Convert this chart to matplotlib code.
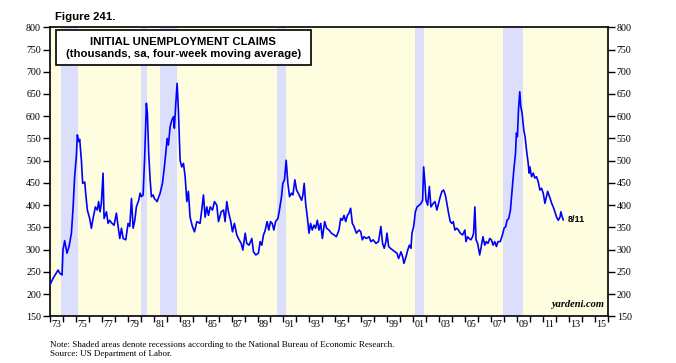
import matplotlib
matplotlib.use("Agg")
import matplotlib.pyplot as plt
from matplotlib.patches import Rectangle
from matplotlib.ticker import FixedLocator, NullFormatter

# ---- data (decimal year, thousands) ----
dates = [
    1973.05, 1973.23, 1973.62, 1973.75, 1973.93, 1974.00, 1974.13, 1974.31, 1974.47, 1974.65,
    1974.77, 1974.90, 1975.03, 1975.11, 1975.21, 1975.29, 1975.42, 1975.52, 1975.68, 1975.75,
    1975.88, 1976.06, 1976.19, 1976.34, 1976.50, 1976.65, 1976.75, 1976.86, 1976.96, 1977.09,
    1977.17, 1977.35, 1977.48, 1977.60, 1977.78, 1977.94, 1978.12, 1978.25, 1978.38, 1978.51,
    1978.64, 1978.84, 1979.02, 1979.15, 1979.28, 1979.41, 1979.54, 1979.66, 1979.84, 1979.95,
    1980.05, 1980.18, 1980.30, 1980.43, 1980.51, 1980.61, 1980.72, 1980.82, 1980.95, 1981.05,
    1981.26, 1981.49, 1981.67, 1981.82, 1981.95, 1982.03, 1982.13, 1982.26, 1982.39, 1982.52,
    1982.59, 1982.70, 1982.80, 1982.90, 1983.03, 1983.16, 1983.29, 1983.42, 1983.55, 1983.67,
    1983.80, 1983.98, 1984.14, 1984.32, 1984.57, 1984.70, 1984.83, 1984.96, 1985.09, 1985.22,
    1985.35, 1985.53, 1985.68, 1985.86, 1985.99, 1986.20, 1986.38, 1986.50, 1986.63, 1986.76,
    1986.94, 1987.07, 1987.22, 1987.40, 1987.58, 1987.74, 1987.87, 1988.05, 1988.17, 1988.35,
    1988.56, 1988.69, 1988.87, 1989.07, 1989.20, 1989.33, 1989.46, 1989.58, 1989.74, 1989.87,
    1990.00, 1990.13, 1990.26, 1990.39, 1990.57, 1990.69, 1990.85, 1990.95, 1991.08, 1991.21,
    1991.34, 1991.47, 1991.62, 1991.73, 1991.88, 1992.01, 1992.14, 1992.27, 1992.40, 1992.50,
    1992.60, 1992.71, 1992.84, 1992.97, 1993.09, 1993.22, 1993.35, 1993.48, 1993.61, 1993.74,
    1993.87, 1994.00, 1994.18, 1994.33, 1994.51, 1994.69, 1994.90, 1995.08, 1995.28, 1995.41,
    1995.54, 1995.67, 1995.80, 1995.93, 1996.05, 1996.18, 1996.31, 1996.44, 1996.62, 1996.83,
    1996.96, 1997.08, 1997.21, 1997.39, 1997.60, 1997.74, 1997.92, 1998.13, 1998.33, 1998.51,
    1998.64, 1998.77, 1998.90, 1998.98, 1999.11, 1999.24, 1999.42, 1999.60, 1999.75, 1999.88,
    2000.06, 2000.19, 2000.29, 2000.45, 2000.58, 2000.71, 2000.83, 2000.91, 2001.04, 2001.17,
    2001.30, 2001.48, 2001.61, 2001.73, 2001.81, 2001.91, 2001.99, 2002.12, 2002.25, 2002.37,
    2002.55, 2002.68, 2002.83, 2002.96, 2003.09, 2003.22, 2003.35, 2003.48, 2003.60, 2003.73,
    2003.86, 2003.99, 2004.09, 2004.22, 2004.35, 2004.50, 2004.63, 2004.81, 2004.99, 2005.07,
    2005.20, 2005.32, 2005.45, 2005.58, 2005.66, 2005.76, 2005.85, 2005.97, 2006.13, 2006.25,
    2006.38, 2006.52, 2006.64, 2006.77, 2006.90, 2007.03, 2007.16, 2007.29, 2007.42, 2007.54,
    2007.72, 2007.88, 2008.01, 2008.14, 2008.24, 2008.37, 2008.50, 2008.63, 2008.76, 2008.89,
    2008.96, 2009.04, 2009.12, 2009.22, 2009.30, 2009.40, 2009.53, 2009.63, 2009.74, 2009.87,
    2009.94, 2010.00, 2010.13, 2010.26, 2010.38, 2010.51, 2010.64, 2010.77, 2010.90, 2011.03,
    2011.16, 2011.37, 2011.55, 2011.68, 2011.80, 2011.93, 2012.06, 2012.19, 2012.32, 2012.39,
    2012.50, 2012.57,
]
claims = [
    224, 235, 254, 247, 243, 299, 320, 292, 307, 337,
    389, 464, 509, 558, 543, 548, 501, 449, 452, 427,
    389, 370, 348, 373, 396, 389, 408, 385, 404, 472,
    370, 385, 359, 366, 359, 355, 382, 352, 325, 348,
    325, 322, 359, 352, 415, 348, 366, 396, 411, 427,
    419, 423, 509, 629, 607, 517, 457, 419, 423, 415,
    408, 427, 449, 486, 524, 550, 535, 576, 591, 599,
    573, 629, 674, 614, 501, 486, 494, 464, 408, 431,
    373, 352, 340, 363, 359, 389, 423, 373, 396, 377,
    396, 389, 408, 400, 363, 385, 389, 363, 408, 385,
    363, 340, 359, 333, 322, 314, 299, 337, 314, 310,
    325, 295, 288, 292, 318, 310, 333, 342, 363, 344,
    363, 359, 344, 363, 370, 389, 419, 449, 457, 501,
    449, 419, 427, 423, 457, 434, 427, 419, 411, 423,
    449, 404, 373, 337, 359, 344, 355, 348, 366, 344,
    359, 325, 363, 348, 344, 337, 333, 329, 344, 370,
    366, 377, 363, 377, 382, 393, 359, 352, 337, 344,
    340, 322, 329, 325, 329, 318, 322, 314, 318, 352,
    314, 303, 318, 337, 307, 303, 299, 295, 292, 280,
    295, 284, 269, 284, 299, 310, 303, 337, 352, 385,
    396, 400, 404, 411, 486, 449, 411, 400, 442, 396,
    404, 408, 389, 404, 419, 431, 434, 423, 404, 382,
    363, 359, 363, 344, 348, 344, 337, 333, 344, 318,
    329, 325, 322, 329, 337, 396, 322, 314, 288, 307,
    329, 310, 318, 314, 325, 322, 310, 318, 307, 318,
    318, 333, 348, 352, 366, 370, 389, 434, 479, 516,
    562, 554, 614, 655, 622, 607, 569, 554, 524, 494,
    472, 486, 464, 472, 461, 464, 453, 434, 438, 427,
    404, 431, 416, 404, 396, 385, 373, 366, 373, 385,
    373, 367,
]
rec_start = [1973.83, 1980.00, 1981.50, 1990.50, 2001.17, 2007.92]
rec_end = [1975.17, 1980.50, 1982.83, 1991.17, 2001.83, 2009.50]
year_labels = ["73", "75", "77", "79", "81", "83", "85", "87", "89", "91", "93",
               "95", "97", "99", "01", "03", "05", "07", "09", "11", "13", "15"]
label_years = [1973 + 2 * i for i in range(len(year_labels))]
yticks = list(range(150, 801, 50))

fig = plt.figure(figsize=(6.76, 3.63), dpi=100)
ax = fig.add_axes([50 / 676, 1 - 316.3 / 363, 557.7 / 676, 289 / 363])
ax.set_facecolor("#fffde0")

for s, e in zip(rec_start, rec_end):
    ax.axvspan(s, e, color="#dcdffc", lw=0, zorder=1)

ax.plot(dates, claims, color="#0000ff", lw=1.2, zorder=3)

ax.set_xlim(1973, 2016)
ax.set_ylim(150, 800)

# x axis: year ticks, labels centred in the year
ax.xaxis.set_major_locator(FixedLocator(list(range(1973, 2017))))
ax.xaxis.set_major_formatter(NullFormatter())
ax.xaxis.set_minor_locator(FixedLocator([y + 0.5 for y in label_years]))
ax.set_xticklabels(year_labels, minor=True)
ax.tick_params(axis="x", which="major", direction="out", length=4, width=1)
ax.tick_params(axis="x", which="minor", length=0, pad=3)

ax.set_yticks(yticks)
ax.tick_params(axis="y", which="both", direction="out", length=5, width=1,
               left=True, right=True, labelleft=True, labelright=True, pad=1.5)

for lab in ax.get_xticklabels(minor=True) + ax.get_yticklabels():
    lab.set_fontfamily("Liberation Serif")
    lab.set_fontsize(7.2)

for sp in ax.spines.values():
    sp.set_linewidth(1.2)
    sp.set_color("black")

# title box
ax.add_patch(Rectangle((0.011, 0.870), 0.457, 0.121, transform=ax.transAxes,
                       facecolor="white", edgecolor="black", lw=1.2, zorder=5))
ax.text(0.239, 0.950, "INITIAL UNEMPLOYMENT CLAIMS", transform=ax.transAxes,
        ha="center", va="center", fontfamily="Liberation Sans", fontweight="bold",
        fontsize=8.2, zorder=6)
ax.text(0.239, 0.908, "(thousands, sa, four-week moving average)", transform=ax.transAxes,
        ha="center", va="center", fontfamily="Liberation Sans", fontweight="bold",
        fontsize=8.2, zorder=6)

ax.text(2012.9, claims[-1], "8/11", ha="left", va="center",
        fontfamily="Liberation Sans", fontweight="bold", fontsize=6.5, zorder=6)

ax.text(0.993, 0.025, "yardeni.com", transform=ax.transAxes, ha="right", va="bottom",
        fontfamily="Liberation Serif", fontweight="bold", fontstyle="italic",
        fontsize=7.5, zorder=6)

fig.text(55 / 676, 1 - 17 / 363, "Figure 241.", ha="left", va="center",
         fontfamily="Liberation Sans", fontweight="bold", fontsize=8.2)
fig.text(50 / 676, 1 - 345 / 363,
         "Note: Shaded areas denote recessions according to the National Bureau of Economic Research.",
         ha="left", va="center", fontfamily="Liberation Serif", fontsize=6.5)
fig.text(50 / 676, 1 - 353.5 / 363, "Source: US Department of Labor.",
         ha="left", va="center", fontfamily="Liberation Serif", fontsize=6.5)

fig.savefig("out.png", dpi=100)
